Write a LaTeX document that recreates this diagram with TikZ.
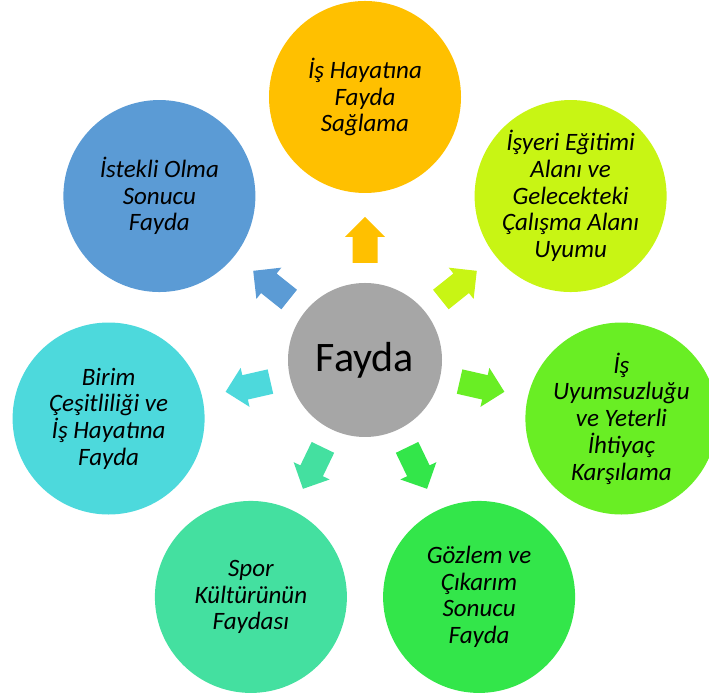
\documentclass[tikz,border=0pt]{standalone}
\usepackage{fontspec}
\setmainfont{Carlito}
\definecolor{cgray}{HTML}{A6A6A6}
\definecolor{c1}{HTML}{FFC000}
\definecolor{c2}{HTML}{C8F514}
\definecolor{c3}{HTML}{69EE24}
\definecolor{c4}{HTML}{33E64A}
\definecolor{c5}{HTML}{44E0A0}
\definecolor{c6}{HTML}{4DD9DC}
\definecolor{c7}{HTML}{5B9BD5}
\tikzset{
  outer/.style={circle, minimum size=192pt, inner sep=0pt, align=center,
    font=\itshape\fontsize{25}{26.7}\selectfont, text=black},
  hub/.style={circle, minimum size=154pt, inner sep=0pt, fill=cgray,
    font=\fontsize{42}{46}\selectfont, text=black},
}
\begin{document}
\begin{tikzpicture}[x=1pt,y=1pt]
\useasboundingbox (0,0) rectangle (709,700);
\node[hub] (c) at (365,340) {Fayda};
\node[outer, fill=c1] (n1) at ([shift={(90:263)}]c) {İş Hayatına\\Fayda\\Sağlama};
\node[outer, fill=c2] (n2) at ([shift={(38.571:263)}]c) {İşyeri Eğitimi\\Alanı ve\\Gelecekteki\\Çalışma Alanı\\Uyumu};
\node[outer, fill=c3] (n3) at ([shift={(-12.857:263)}]c) {İş\\Uyumsuzluğu\\ve Yeterli\\İhtiyaç\\Karşılama};
\node[outer, fill=c4] (n4) at ([shift={(-64.286:263)}]c) {Gözlem ve\\Çıkarım\\Sonucu\\Fayda};
\node[outer, fill=c5] (n5) at ([shift={(-115.714:263)}]c) {Spor\\Kültürünün\\Faydası};
\node[outer, fill=c6] (n6) at ([shift={(-167.143:263)}]c) {Birim\\Çeşitliliği ve\\İş Hayatına\\Fayda};
\node[outer, fill=c7] (n7) at ([shift={(141.429:263)}]c) {İstekli Olma\\Sonucu\\Fayda};
\foreach \ang/\col in {90/c1, 38.571/c2, -12.857/c3, -64.286/c4, -115.714/c5, -167.143/c6, 141.429/c7}{
  \begin{scope}[shift={(c.center)}, rotate=\ang]
    \fill[\col] (97,-12.5) -- (123,-12.5) -- (123,-20) -- (143,0) -- (123,20) -- (123,12.5) -- (97,12.5) -- cycle;
  \end{scope}
}
\end{tikzpicture}
\end{document}
